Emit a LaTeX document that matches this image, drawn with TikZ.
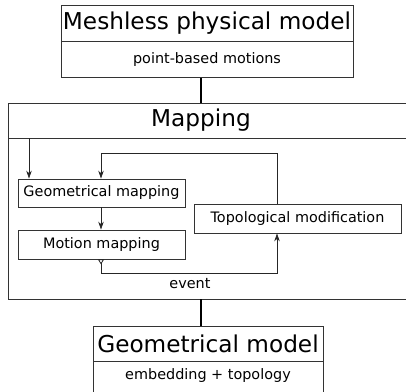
\documentclass[tikz,border=0pt]{standalone}
\usepackage{fontspec}
\setmainfont{DejaVu Sans}
\usetikzlibrary{arrows.meta,calc}
\definecolor{boxline}{HTML}{333333}
\tikzset{
  boxpart/.style={draw=boxline,line width=0.8pt,inner sep=0pt,anchor=center},
  bigtitle/.style={boxpart,font=\fontsize{23.2}{25}\selectfont},
  subtitle/.style={boxpart,font=\fontsize{14.4}{16}\selectfont},
  stepbox/.style={draw=boxline,line width=0.8pt,inner sep=0pt,font=\fontsize{14.4}{16}\selectfont,minimum width=167pt,minimum height=28pt},
  flow/.style={draw=black!85,line width=0.8pt,-{Stealth[length=8pt,width=5.5pt]}},
  link/.style={draw=black,line width=1.5pt}
}
\begin{document}
\begin{tikzpicture}[x=1pt,y=-1pt]
\useasboundingbox (0,0) rectangle (406,391);
% top box
\node[bigtitle,minimum width=292pt,minimum height=36pt] (mpm) at (207,23.5) {Meshless physical model};
\node[subtitle,minimum width=292pt,minimum height=36pt] (mpmsub) at (207,59.5) {point-based motions};
% mapping box
\coordinate (mtl) at (8,103);
\coordinate (mtr) at (406,103);
\coordinate (mdl) at (8,138);
\coordinate (mdr) at (406,138);
\coordinate (mbl) at (8,299);
\coordinate (mbr) at (406,299);
\draw[boxline,line width=0.8pt] (mtr) -- (mtl) -- (mbl) -- (mbr);
\draw[boxline,line width=0.8pt] (mdl) -- (mdr);
\node[font=\fontsize{23.2}{25}\selectfont] (map) at (201,120) {Mapping};
% inner boxes
\node[stepbox] (geo) at (101.5,193) {Geometrical mapping};
\node[stepbox,minimum height=29pt] (mot) at (101.5,244.5) {Motion mapping};
\node[stepbox,minimum width=207pt,minimum height=29pt] (topo) at (297.5,218.5) {Topological modification};
% flows
\coordinate (inl) at (29,138);
\draw[flow] (inl) -- (inl |- geo.north);
\coordinate (loopR) at (277,153);
\coordinate (loopL) at (101,153);
\draw[flow] (loopR |- topo.north) -- (loopR) -- (loopL) -- (loopL |- geo.north);
\draw[flow] (geo.south -| loopL) -- (mot.north -| loopL);
\coordinate (evL) at (101,273);
\coordinate (evR) at (277,273);
\draw[draw=black!85,line width=0.8pt,{Triangle[open,reversed,length=5pt,width=6pt]}-{Stealth[length=8pt,width=5.5pt]}] (mot.south -| evL) -- (evL) -- (evR) -- (evR |- topo.south);
\node[font=\fontsize{14.4}{16}\selectfont] (ev) at (190,284) {event};
% bottom box
\node[bigtitle,minimum width=230pt,minimum height=35pt] (gm) at (208,343.5) {Geometrical model};
\coordinate (gbl) at (93,361);
\coordinate (gbr) at (323,361);
\coordinate (gel) at (93,392);
\coordinate (ger) at (323,392);
\draw[boxline,line width=0.8pt] (gbl) -- (gel) (gbr) -- (ger);
\node[font=\fontsize{14.4}{16}\selectfont] (gmsub) at (208,376) {embedding + topology};
% links
\draw[link] (mpmsub.south -| map) -- (mtl -| map);
\draw[link] (mbl -| map) -- (gm.north -| map);
\end{tikzpicture}
\end{document}
